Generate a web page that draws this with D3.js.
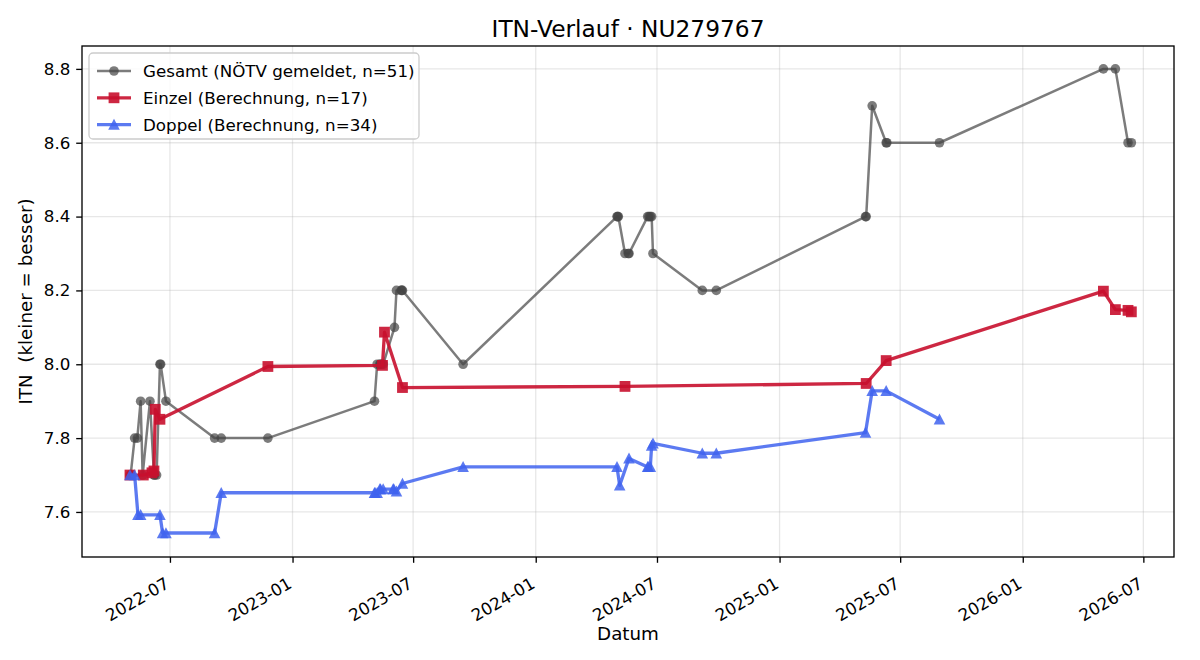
<!DOCTYPE html>
<html>
<head>
<meta charset="utf-8">
<script src="https://cdn.jsdelivr.net/npm/d3@7"></script>
<style>
  body { margin: 0; background: #fff; }
  svg { display: block; font-family: "DejaVu Sans", sans-serif; }
</style>
</head>
<body>
<div id="chart"></div>
<script>
// Values
var gesamtDates = [
  '2022-05-02','2022-05-03','2022-05-09','2022-05-13','2022-05-18','2022-05-21','2022-06-01','2022-06-07','2022-06-08','2022-06-11','2022-06-16','2022-06-17','2022-06-25',
  '2022-09-06','2022-09-16','2022-11-25',
  '2023-05-04','2023-05-08','2023-05-12','2023-05-13','2023-05-15','2023-05-17','2023-06-03','2023-06-06','2023-06-13','2023-06-14','2023-06-15',
  '2023-09-14',
  '2024-05-02','2024-05-03','2024-05-04','2024-05-14','2024-05-19','2024-05-20','2024-06-17','2024-06-19','2024-06-21','2024-06-23','2024-06-25',
  '2024-09-07','2024-09-28',
  '2025-05-10','2025-05-11','2025-05-20','2025-06-10','2025-06-11','2025-08-29',
  '2026-05-02','2026-05-20','2026-06-08','2026-06-13'
];
var gesamtValues = [
  7.7,7.7,7.8,7.8,7.9,7.7,7.9,7.7,7.7,7.7,8.0,8.0,7.9,
  7.8,7.8,7.8,
  7.9,8.0,8.0,8.0,8.0,8.0,8.1,8.2,8.2,8.2,8.2,
  8.0,
  8.4,8.4,8.4,8.3,8.3,8.3,8.4,8.4,8.4,8.4,8.3,
  8.2,8.2,
  8.4,8.4,8.7,8.6,8.6,8.6,
  8.8,8.8,8.6,8.6
];

var einzelDates = [
  '2022-05-02','2022-05-22','2022-06-04','2022-06-07','2022-06-09','2022-06-16',
  '2022-11-25','2023-05-16','2023-05-19','2023-06-15','2024-05-14',
  '2025-05-11','2025-06-10','2026-05-02','2026-05-20','2026-06-08','2026-06-13'
];
var einzelValues = [
  7.700,7.700,7.706,7.711,7.878,7.851,
  7.994,7.997,8.087,7.937,7.940,
  7.948,8.010,8.198,8.148,8.146,8.142
];

var doppelDates = [
  '2022-05-02','2022-05-09','2022-05-14','2022-05-18','2022-06-16','2022-06-20','2022-06-25','2022-09-06','2022-09-16',
  '2023-05-04','2023-05-05','2023-05-08','2023-05-12','2023-05-13','2023-05-17','2023-06-01','2023-06-02','2023-06-06','2023-06-15',
  '2023-09-14',
  '2024-05-02','2024-05-06','2024-05-20','2024-06-17','2024-06-18','2024-06-21','2024-06-23','2024-06-25',
  '2024-09-07','2024-09-28',
  '2025-05-10','2025-05-20','2025-06-10','2025-08-29'
];
var doppelValues = [
  7.700,7.700,7.592,7.592,7.592,7.543,7.543,7.543,7.652,
  7.652,7.652,7.652,7.662,7.662,7.662,7.662,7.662,7.656,7.677,
  7.722,
  7.722,7.672,7.745,7.722,7.722,7.722,7.780,7.786,
  7.759,7.759,
  7.815,7.928,7.928,7.851
];

var seriesLabels = [
  'Gesamt (NÖTV gemeldet, n=51)',
  'Einzel (Berechnung, n=17)',
  'Doppel (Berechnung, n=34)'
];
var yTickValues = [7.6, 7.8, 8.0, 8.2, 8.4, 8.6, 8.8];
var xTickDates = ['2022-07-01','2023-01-01','2023-07-01','2024-01-01','2024-07-01','2025-01-01','2025-07-01','2026-01-01','2026-07-01'];

var titleText = 'ITN-Verlauf · NU279767';
var xLabel = 'Datum';
var yLabel = 'ITN  (kleiner = besser)';

function renderChart(){
  var width = 1200;
  var height = 660;
  var left = 82, right = 1174, top = 46, bottom = 557;
  var parse = d3.timeParse('%Y-%m-%d');

  var svg = d3.select('#chart')
  .append('svg')
  .attr('width', width)
  .attr('height', height);

  var xScale = d3.scaleTime()
  .domain([parse('2022-02-19'), parse('2026-08-16')])
  .range([left, right]);

  var yScale = d3.scaleLinear()
  .domain([7.478, 8.862])
  .range([bottom, top]);

  // Grid
  var grid = svg.append('g').attr('stroke', '#b0b0b0').attr('stroke-opacity', 0.3).attr('stroke-width', 1.3);
  xTickDates.forEach(function(d){
    var x = xScale(parse(d));
    grid.append('line').attr('x1', x).attr('x2', x).attr('y1', top).attr('y2', bottom);
  });
  yTickValues.forEach(function(v){
    var y = yScale(v);
    grid.append('line').attr('x1', left).attr('x2', right).attr('y1', y).attr('y2', y);
  });

  // X axis
  var xAxis = d3.axisBottom(xScale)
  .tickValues(xTickDates.map(parse))
  .tickFormat(d3.timeFormat('%Y-%m'))
  .tickSize(5.8)
  .tickSizeOuter(0);

  var gx = svg.append('g')
  .attr('transform', `translate(0, ${bottom})`)
  .call(xAxis);
  gx.select('.domain').remove();
  gx.selectAll('line').attr('stroke', '#000').attr('stroke-width', 1.33);
  gx.selectAll('text')
  .attr('x', 0).attr('y', 0).attr('dy', 0)
  .attr('text-anchor', 'end')
  .attr('transform', 'translate(0, 30) rotate(-30)')
  .attr('font-size', 16.7)
  .attr('font-family', '"DejaVu Sans", sans-serif')
  .attr('fill', '#000');

  // Y axis
  var yAxis = d3.axisLeft(yScale)
  .tickValues(yTickValues)
  .tickFormat(d3.format('.1f'))
  .tickSize(5.8)
  .tickPadding(5.8)
  .tickSizeOuter(0);

  var gy = svg.append('g')
  .attr('transform', `translate(${left}, 0)`)
  .call(yAxis);
  gy.select('.domain').remove();
  gy.selectAll('line').attr('stroke', '#000').attr('stroke-width', 1.33);
  gy.selectAll('text')
  .attr('font-size', 16.7)
  .attr('font-family', '"DejaVu Sans", sans-serif')
  .attr('fill', '#000');

  // Series
  var series = [
    { dates: gesamtDates, values: gesamtValues, color: '#444444', opacity: 0.7, width: 2.5, marker: 'circle' },
    { dates: einzelDates, values: einzelValues, color: '#c8102e', opacity: 0.9, width: 3.3, marker: 'square' },
    { dates: doppelDates, values: doppelValues, color: '#3f63ef', opacity: 0.85, width: 3.3, marker: 'triangle' }
  ];

  var markerPaths = {
    circle: d3.symbol().type(d3.symbolCircle).size(Math.PI * 4.8 * 4.8)(),
    square: 'M-5.4,-5.4H5.4V5.4H-5.4Z',
    triangle: 'M0,-5.8L5.8,5.2L-5.8,5.2Z'
  };

  var line = d3.line()
  .x(function(d){ return xScale(d.date); })
  .y(function(d){ return yScale(d.value); });

  series.forEach(function(s){
    var pts = s.dates.map(function(d, i){ return { date: parse(d), value: s.values[i] }; });
    var g = svg.append('g');
    g.append('path')
    .datum(pts)
    .attr('d', line)
    .attr('fill', 'none')
    .attr('stroke', s.color)
    .attr('stroke-opacity', s.opacity)
    .attr('stroke-width', s.width)
    .attr('stroke-linejoin', 'round');
    g.selectAll('path.mk')
    .data(pts)
    .enter()
    .append('path')
    .attr('class', 'mk')
    .attr('d', markerPaths[s.marker])
    .attr('transform', function(d){ return `translate(${xScale(d.date)}, ${yScale(d.value)})`; })
    .attr('fill', s.color)
    .attr('fill-opacity', s.opacity);
  });

  // Frame
  svg.append('rect')
  .attr('x', left).attr('y', top)
  .attr('width', right - left).attr('height', bottom - top)
  .attr('fill', 'none').attr('stroke', '#000').attr('stroke-width', 1.33);

  // Legend
  var legend = svg.append('g');
  legend.append('rect')
  .attr('x', 89).attr('y', 53).attr('width', 330).attr('height', 86).attr('rx', 4)
  .attr('fill', '#fff').attr('fill-opacity', 0.8)
  .attr('stroke', '#cccccc').attr('stroke-width', 1.3);
  series.forEach(function(s, i){
    var y = 71 + i * 26.8;
    legend.append('line')
    .attr('x1', 97).attr('x2', 131).attr('y1', y).attr('y2', y)
    .attr('stroke', s.color).attr('stroke-opacity', s.opacity).attr('stroke-width', s.width);
    legend.append('path')
    .attr('d', markerPaths[s.marker])
    .attr('transform', `translate(114, ${y})`)
    .attr('fill', s.color).attr('fill-opacity', s.opacity);
    legend.append('text')
    .attr('x', 143).attr('y', y + 6)
    .attr('font-size', 16.7)
    .text(seriesLabels[i]);
  });

  // Title and labels
  svg.append('text')
  .attr('x', (left + right) / 2).attr('y', 37)
  .attr('text-anchor', 'middle').attr('font-size', 23.3)
  .text(titleText);

  svg.append('text')
  .attr('x', (left + right) / 2).attr('y', 640)
  .attr('text-anchor', 'middle').attr('font-size', 18.3)
  .text(xLabel);

  svg.append('text')
  .attr('transform', `translate(32, ${(top + bottom) / 2}) rotate(-90)`)
  .attr('text-anchor', 'middle').attr('font-size', 18.3)
  .style('white-space', 'pre')
  .text(yLabel);
}

document.addEventListener('DOMContentLoaded', renderChart);
</script>
</body>
</html>
